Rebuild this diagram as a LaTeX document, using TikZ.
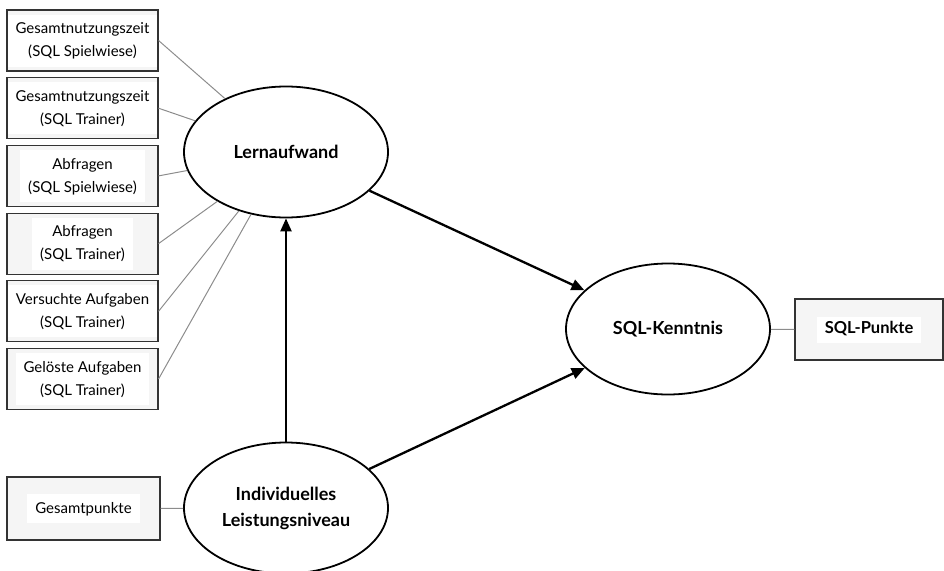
\documentclass[tikz,border=0pt]{standalone}
\usepackage{fontspec}
\setmainfont{Lato}
\usetikzlibrary{arrows.meta,positioning,shapes.geometric}
\tikzset{
    %Define standard arrow tip
    >={Triangle[length=13pt,width=11pt]},
    %Define style for indicator boxes
    ind/.style={
           draw=black!80,
           line width=1.1pt,
           fill=black!4,
           minimum width=151pt,
           minimum height=61pt,
           inner sep=0pt,
           align=center,
           font=\fontsize{15}{23}\selectfont,},
    %Define style for latent variables
    lat/.style={
           ellipse,
           draw,
           line width=1.8pt,
           minimum width=204pt,
           minimum height=131pt,
           align=center,
           font=\bfseries\fontsize{18}{26}\selectfont,},
    %Define style for paths
    pil/.style={
           ->,
           line width=2.3pt,},
    %Define style for indicator links
    lnk/.style={
           draw=black!45,
           line width=1pt,}
}
\newcommand{\wtext}[1]{{\setlength{\fboxsep}{3pt}\colorbox{white}{\hspace{5pt}\begin{tabular}{@{}c@{}}#1\end{tabular}\hspace{5pt}}}}

\begin{document}
\begin{tikzpicture}[x=1pt, y=-1pt, node distance=5.6pt]
 \useasboundingbox (0,0) rectangle (944,570);
 %latent variables
 \node[lat] (lern) at (286,152) {Lernaufwand};
 \node[lat] (niveau) at (286,508) {Individuelles\\Leistungsniveau};
 \node[lat] (kennt) at (668,329) {SQL-Kenntnis};

 %indicators
 \node[ind] (zeitsp) at (82.5,40.5) {\wtext{Gesamtnutzungszeit\\(SQL Spielwiese)}};
 \node[ind, below=of zeitsp] (zeittr) {\wtext{Gesamtnutzungszeit\\(SQL Trainer)}};
 \node[ind, below=of zeittr] (abfsp) {\wtext{Abfragen\\(SQL Spielwiese)}};
 \node[ind, below=of abfsp] (abftr) {\wtext{Abfragen\\(SQL Trainer)}};
 \node[ind, below=of abftr] (versucht) {\wtext{Versuchte Aufgaben\\(SQL Trainer)}};
 \node[ind, below=of versucht] (geloest) {\wtext{Gelöste Aufgaben\\(SQL Trainer)}};
 \node[ind, minimum width=153pt, minimum height=63pt] (gespkt) at (83.5,508.5) {\wtext{Gesamtpunkte}};
 \node[ind, minimum width=148pt, font=\bfseries\fontsize{16.5}{20}\selectfont] (sqlpkt) at (869,329.5) {\wtext{SQL-Punkte}};

 %links
 \foreach \i in {zeitsp,zeittr,abfsp,abftr,versucht,geloest}
   \draw[lnk] (\i.east) -- (lern);
 \draw[lnk] (gespkt) -- (niveau);
 \draw[lnk] (kennt) -- (sqlpkt);

 %paths
 \path (lern) edge[pil] (kennt);
 \path (niveau) edge[pil] (kennt);
 \path (niveau) edge[pil] (lern);

\end{tikzpicture}
\end{document}
